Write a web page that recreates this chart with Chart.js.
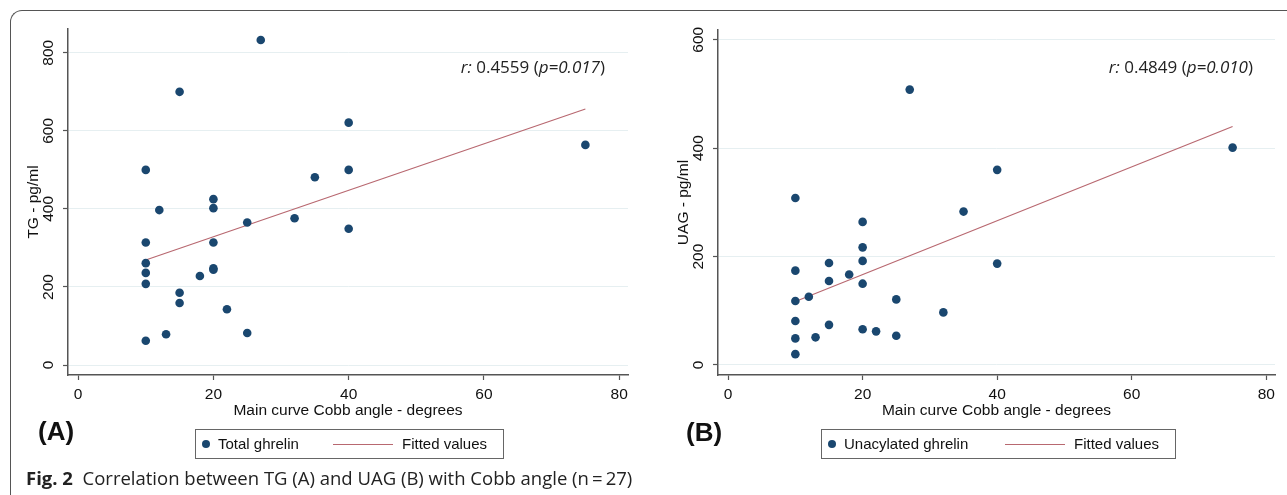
<!DOCTYPE html>
<html>
<head>
<meta charset="utf-8">
<script src="https://cdn.jsdelivr.net/npm/chart.js@4.4.1/dist/chart.umd.min.js"></script>
<style>
  body { margin: 0; background: #fff; width: 1287px; height: 495px; overflow: hidden; position: relative; font-family: "Liberation Sans", Arial, sans-serif; }
  .frame { position: absolute; left: 10px; top: 10px; width: 1400px; height: 600px; border-top: 1.5px solid #555; border-left: 1.5px solid #555; border-top-left-radius: 12px; }
  .panel { position: absolute; top: 0; }
  .rtext { position: absolute; font-family: "Open Sans", sans-serif; font-size: 17px; color: #222; white-space: nowrap; }
  .tag { position: absolute; font-weight: bold; font-size: 26px; color: #111; }
  .legend { position: absolute; height: 28px; border: 1px solid #666; font-size: 15px; color: #111; }
  .legend span { position: absolute; top: 5px; white-space: nowrap; }
  .dot { position: absolute; width: 8px; height: 8px; border-radius: 50%; background: #1a476f; top: 10px; }
  .ln { position: absolute; height: 1.2px; background: #b86870; top: 14px; }
  .caption { position: absolute; left: 26px; top: 465px; font-family: "Open Sans", sans-serif; font-size: 18.5px; color: #222; white-space: nowrap; }
</style>
</head>
<body>
<div class="frame"></div>

<div class="panel" style="left:0"><canvas id="chartA" width="640" height="420"></canvas></div>
<div class="panel" style="left:650px"><canvas id="chartB" width="637" height="420"></canvas></div>

<div class="rtext" style="right:682px; top:55px"><i>r:</i> 0.4559 (<i>p=0.017</i>)</div>
<div class="rtext" style="right:34px; top:55px"><i>r:</i> 0.4849 (<i>p=0.010</i>)</div>

<div class="tag" style="left:38px; top:416px">(A)</div>
<div class="tag" style="left:686px; top:417px">(B)</div>

<div class="legend" style="left:195px; top:429px; width:307px">
  <div class="dot" style="left:6px"></div><span style="left:22px">Total ghrelin</span>
  <div class="ln" style="left:137px; width:60px"></div><span style="left:206px">Fitted values</span>
</div>
<div class="legend" style="left:821px; top:429px; width:353px">
  <div class="dot" style="left:6px"></div><span style="left:22px">Unacylated ghrelin</span>
  <div class="ln" style="left:183px; width:60px"></div><span style="left:252px">Fitted values</span>
</div>

<div class="caption"><b>Fig. 2</b>&nbsp; Correlation between TG (A) and UAG (B) with Cobb angle (n&thinsp;=&thinsp;27)</div>

<script>
// Panel A: total ghrelin vs Cobb angle
const tgAngle = [27, 15, 10, 12, 20, 20, 25, 32, 35, 10, 20, 10, 10, 10, 20, 20, 18, 15, 15, 22, 25, 13, 10, 40, 40, 40, 75];
const tgValue = [833, 700, 500, 397, 425, 402, 365, 376, 481, 314, 314, 261, 236, 208, 248, 244, 228, 185, 159, 143, 82, 79, 62, 621, 500, 349, 564];
const tgFitX = [10, 75];
const tgFitY = [269, 656];
const tgTicks = [0, 200, 400, 600, 800];

// Panel B: unacylated ghrelin vs Cobb angle
const uagAngle = [27, 10, 20, 20, 35, 40, 75, 40, 20, 10, 15, 18, 15, 20, 12, 10, 25, 32, 10, 15, 20, 22, 10, 13, 25, 10];
const uagValue = [508, 308, 264, 217, 283, 360, 401, 187, 192, 174, 188, 167, 155, 150, 126, 118, 121, 97, 81, 74, 66, 62, 49, 51, 54, 20];
const uagFitX = [10, 75];
const uagFitY = [117, 440];
const uagTicks = [0, 200, 400, 600];

const angleTicks = [0, 20, 40, 60, 80];

const axisFont = { family: "'Liberation Sans', Arial, sans-serif", size: 15.5 };

function makeChart(id, xs, ys, fitX, fitY, yTicks, yMin, yMax, yTitle, topPad) {
  const pts = xs.map((x, i) => ({ x: x, y: ys[i] }));
  const fit = fitX.map((x, i) => ({ x: x, y: fitY[i] }));
  return new Chart(document.getElementById(id), {
    type: 'scatter',
    data: {
      datasets: [{
        data: pts,
        backgroundColor: '#1a476f',
        borderWidth: 0,
        pointRadius: 4.3,
      }, {
        type: 'line',
        data: fit,
        borderColor: '#b86870',
        borderWidth: 1.2,
        pointRadius: 0,
        fill: false,
      }],
    },
    options: {
      responsive: false,
      animation: false,
      layout: { padding: { top: topPad, right: 12, left: 0, bottom: 0 } },
      plugins: { legend: { display: false }, tooltip: { enabled: false } },
      scales: {
        x: {
          type: 'linear',
          min: -1.5,
          max: 81.3,
          afterBuildTicks: (s) => { s.ticks = angleTicks.map(v => ({ value: v })); },
          afterFit: (s) => { s.height = 45; },
          border: { color: '#555', width: 1.5 },
          grid: { drawOnChartArea: false, tickLength: 5, tickColor: '#555', tickWidth: 1.2 },
          ticks: { font: axisFont, color: '#111', padding: 5, maxRotation: 0 },
          title: { display: true, text: 'Main curve Cobb angle - degrees', font: axisFont, color: '#111', padding: { top: 0, bottom: 0 } },
        },
        y: {
          min: yMin,
          max: yMax,
          afterBuildTicks: (s) => { s.ticks = yTicks.map(v => ({ value: v })); },
          afterFit: (s) => { s.width = 68; },
          border: { color: '#555', width: 1.5 },
          grid: { color: '#e6eff1', lineWidth: 1, tickLength: 5, tickColor: '#555', tickWidth: 1.2 },
          ticks: { font: axisFont, color: '#111', minRotation: 90, maxRotation: 90, crossAlign: 'center', padding: 1.5 },
          title: { display: true, text: yTitle, font: axisFont, color: '#111', padding: { top: 24, bottom: 0 } },
        },
      },
    },
  });
}

makeChart('chartA', tgAngle, tgValue, tgFitX, tgFitY, tgTicks, -25.6, 861, 'TG - pg/ml', 29);
makeChart('chartB', uagAngle, uagValue, uagFitX, uagFitY, uagTicks, -18.5, 618, 'UAG - pg/ml', 30);
</script>
</body>
</html>
